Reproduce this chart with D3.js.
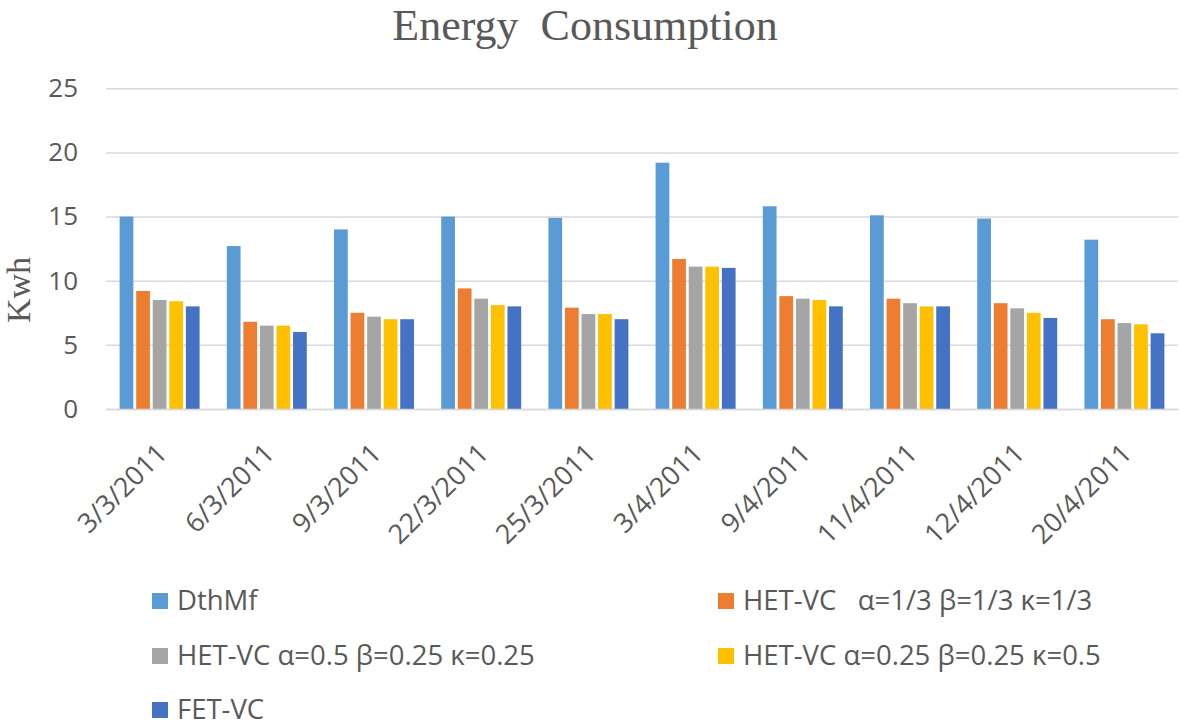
<!DOCTYPE html>
<html>
<head>
<meta charset="utf-8">
<script src="https://cdn.jsdelivr.net/npm/d3@7"></script>
<style>
  html, body { margin: 0; padding: 0; background: #fff; }
  svg { display: block; }
  text { white-space: pre; }
</style>
</head>
<body>
<svg id="chart" width="1181" height="727"></svg>
<script>
// ---- data ----
const categories = ["3/3/2011", "6/3/2011", "9/3/2011", "22/3/2011", "25/3/2011",
                    "3/4/2011", "9/4/2011", "11/4/2011", "12/4/2011", "20/4/2011"];
const seriesNames = ["DthMf",
                     "HET-VC   \u03B1=1/3 \u03B2=1/3 \u03BA=1/3",
                     "HET-VC \u03B1=0.5 \u03B2=0.25 \u03BA=0.25",
                     "HET-VC \u03B1=0.25 \u03B2=0.25 \u03BA=0.5",
                     "FET-VC"];
const dthmf  = [15.0, 12.7, 14.0, 15.0, 14.9, 19.2, 15.8, 15.1, 14.85, 13.2];
const hetA   = [9.2, 6.8, 7.5, 9.4, 7.9, 11.7, 8.8, 8.6, 8.25, 7.0];
const hetB   = [8.5, 6.5, 7.2, 8.6, 7.4, 11.1, 8.6, 8.25, 7.85, 6.7];
const hetC   = [8.4, 6.5, 7.0, 8.1, 7.4, 11.1, 8.5, 8.0, 7.5, 6.6];
const fet    = [8.0, 6.0, 7.0, 8.0, 7.0, 11.0, 8.0, 8.0, 7.1, 5.9];
const yTicks = [0, 5, 10, 15, 20, 25];
const colors = ["#5B9BD5", "#ED7D31", "#A5A5A5", "#FFC000", "#4472C4"];

const seriesValues = [dthmf, hetA, hetB, hetC, fet];

// ---- layout ----
const svg = d3.select("#chart");
const plot = { left: 106, right: 1178, top: 88.3, bottom: 409 };
const textColor = "#595959";
const sansFont = "'Open Sans', 'Liberation Sans', sans-serif";
const serifFont = "'Liberation Serif', 'Times New Roman', serif";

const x0 = d3.scaleBand().domain(categories).range([plot.left, plot.right])
  .paddingInner(0.254).paddingOuter(0.127);
const x1 = d3.scaleBand().domain(d3.range(seriesNames.length)).range([0, x0.bandwidth()])
  .paddingInner(0.17).paddingOuter(0);
const y = d3.scaleLinear().domain([0, 25]).range([plot.bottom, plot.top]);

// title
svg.append("text")
  .attr("x", 585).attr("y", 40)
  .attr("text-anchor", "middle")
  .attr("font-family", serifFont)
  .attr("font-size", 44)
  .attr("fill", textColor)
  .text("Energy  Consumption");

// gridlines + y axis labels via d3 axis
const yAxis = d3.axisLeft(y).tickValues(yTicks).tickSize(-(plot.right - plot.left)).tickPadding(28);
const gy = svg.append("g").attr("transform", `translate(${plot.left},0)`).call(yAxis);
gy.select(".domain").remove();
gy.selectAll(".tick line").attr("stroke", "#d9d9d9").attr("stroke-width", 1.5);
gy.selectAll(".tick text")
  .attr("font-family", sansFont).attr("font-size", 26).attr("fill", textColor);

// y axis title
svg.append("text")
  .attr("transform", "translate(30,290) rotate(-90)")
  .attr("text-anchor", "middle")
  .attr("font-family", serifFont)
  .attr("font-size", 34)
  .attr("fill", textColor)
  .text("Kwh");

// bars
const groups = svg.append("g").selectAll("g")
  .data(categories)
  .join("g")
  .attr("transform", d => `translate(${x0(d)},0)`);

groups.selectAll("rect")
  .data((d, i) => seriesValues.map((vals, s) => ({ s, v: vals[i] })))
  .join("rect")
  .attr("x", d => x1(d.s))
  .attr("width", x1.bandwidth())
  .attr("y", d => y(d.v))
  .attr("height", d => y(0) - y(d.v))
  .attr("fill", d => colors[d.s]);

// x axis (baseline + labels)
const xAxis = d3.axisBottom(x0).tickSize(0).tickPadding(0);
const gx = svg.append("g").attr("transform", `translate(0,${plot.bottom})`).call(xAxis);
gx.select(".domain").attr("stroke", "#d9d9d9").attr("stroke-width", 1.5);
gx.selectAll(".tick text")
  .attr("font-family", sansFont).attr("font-size", 27).attr("fill", textColor)
  .attr("text-anchor", "end")
  .attr("dy", 0).attr("y", 0)
  .attr("transform", "translate(9,46) rotate(-45)");

// legend
const legendItems = [
  { s: 0, x: 152, y: 610 },
  { s: 1, x: 718, y: 610 },
  { s: 2, x: 152, y: 665 },
  { s: 3, x: 718, y: 665 },
  { s: 4, x: 152, y: 719 }
];
const lg = svg.append("g").selectAll("g").data(legendItems).join("g");
lg.append("rect")
  .attr("x", d => d.x).attr("y", d => d.y - 17)
  .attr("width", 16).attr("height", 16)
  .attr("fill", d => colors[d.s]);
lg.append("text")
  .attr("x", d => d.x + 25).attr("y", d => d.y)
  .attr("font-family", sansFont).attr("font-size", 27.5).attr("fill", textColor)
  .text(d => seriesNames[d.s]);
</script>
</body>
</html>
